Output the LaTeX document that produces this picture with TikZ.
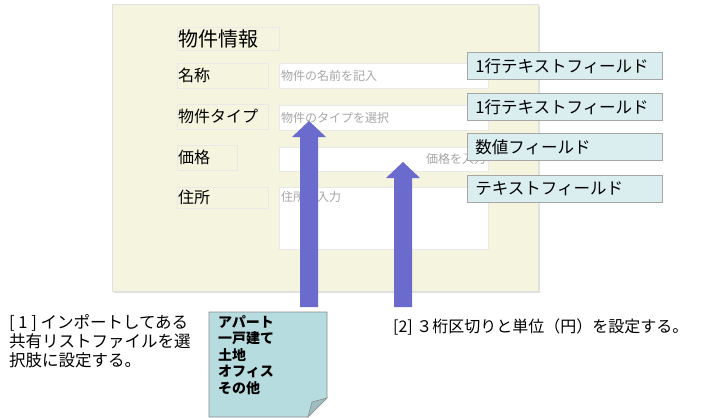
\documentclass[tikz,border=0pt]{standalone}
\usepackage{fontspec}
\setmainfont{Noto Sans CJK JP}
\definecolor{panelbg}{HTML}{F5F5DF}
\definecolor{tagbg}{HTML}{DAEEF0}
\definecolor{arrowblue}{HTML}{6B6BCD}
\definecolor{notebg}{HTML}{B7DCE0}
\definecolor{notefold}{HTML}{9DBDC0}
\newcommand{\jfont}[1]{\fontsize{#1}{#1}\selectfont}
\tikzset{
  panel/.style={fill=panelbg, draw=black!12, line width=0.6pt},
  labelbox/.style={anchor=north west, draw=black!9, inner xsep=1pt, inner ysep=0pt, text width=#1, align=left, font=\jfont{16}},
  field/.style={anchor=north west, fill=white, draw=black!9, inner xsep=2pt, inner ysep=0pt, minimum width=209pt, text width=205pt, font=\jfont{12}\color{black!35}},
  tagbox/.style={anchor=north west, fill=tagbg, draw=black!35, line width=0.8pt, inner xsep=8pt, inner ysep=0pt, minimum height=27pt, text width=179pt, align=left, font=\jfont{16.5}},
  blockarrow/.style={fill=arrowblue},
  note/.style={fill=notebg, draw=black!45, line width=0.6pt},
}

\begin{document}
\begin{tikzpicture}[x=1pt, y=-1pt]
\useasboundingbox (0,0) rectangle (705,418);
% form panel
\fill[black!12] (114,6) rectangle (540,293);
\draw[panel] (112,4) rectangle (538,291);
\node[labelbox=100pt, minimum height=23pt] (title) at (177,27) {\jfont{20}物件情報};
\node[labelbox=89pt, minimum height=25pt] (lname) at (177,63) {名称};
\node[labelbox=89pt, minimum height=25pt] (ltype) at (177,104) {物件タイプ};
\node[labelbox=58pt, minimum height=25pt] (lprice) at (177,145) {価格};
\node[labelbox=89pt, minimum height=21pt] (laddr) at (177,187) {住所};
\node[field, minimum height=25pt, align=left] (fname) at (279,63) {物件の名前を記入};
\node[field, minimum height=25pt, align=left] (ftype) at (279,105) {物件のタイプを選択};
\node[field, minimum height=24pt, align=right] (fprice) at (279,147) {価格を入力};
\node[field, minimum height=62pt, align=left, text depth=44pt] (faddr) at (279,187) {住所を入力};
% field kinds
\node[tagbox] (tname) at (467,52) {1行テキストフィールド};
\node[tagbox] (ttype) at (467,93) {1行テキストフィールド};
\node[tagbox] (tprice) at (467,133) {数値フィールド};
\node[tagbox] (taddr) at (467,175) {テキストフィールド};
% arrows
\coordinate (tip1) at (309,121);
\coordinate (tip2) at (403,162);
\fill[blockarrow] (tip1) -- ++(17,16) -- ++(-8,0) -- ++(0,170) -- ++(-18,0) -- ++(0,-170) -- ++(-8,0) -- cycle;
\fill[blockarrow] (tip2) -- ++(17,16) -- ++(-8,0) -- ++(0,129) -- ++(-18,0) -- ++(0,-129) -- ++(-8,0) -- cycle;
% list note
\draw[note] (209,312) -- (327,312) -- (327,398) -- (308,417) -- (209,417) -- cycle;
\draw[fill=notefold, draw=black!45, line width=0.6pt] (327,398) -- (312,402) -- (308,417) -- cycle;
\node[anchor=north west, align=left, inner sep=0pt, font=\jfont{14}\bfseries] (items) at (218,315)
  {アパート\\[2.5pt]一戸建て\\[2.5pt]土地\\[2.5pt]オフィス\\[2.5pt]その他};
% notes
\node[anchor=north west, align=left, inner sep=0pt, font=\jfont{16.5}] (note1) at (9,314)
  {[ 1 ] インポートしてある\\[2pt]共有リストファイルを選\\[2pt]択肢に設定する。};
\node[anchor=west, inner sep=0pt, font=\jfont{16}] (note2) at (393,327) {[2] ３桁区切りと単位（円）を設定する。};
\end{tikzpicture}
\end{document}
